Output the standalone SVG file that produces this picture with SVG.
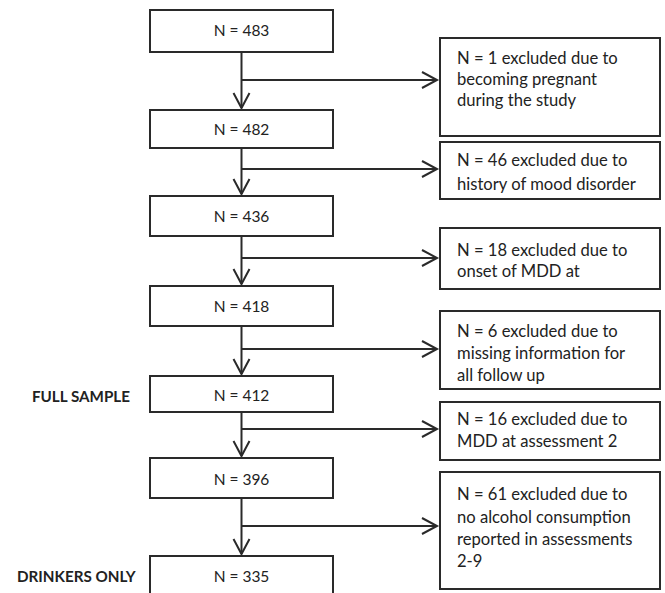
<svg xmlns="http://www.w3.org/2000/svg" width="665" height="593" viewBox="0 0 665 593">
<style>
.box{fill:#fff;stroke:#2a2a2a;stroke-width:2}
.t{font-family:Lato,"Open Sans","Liberation Sans",sans-serif;font-size:16.6px;fill:#222}
.m{font-family:Lato,"Open Sans","Liberation Sans",sans-serif;font-size:15.5px;fill:#222;text-anchor:middle}
.lbl{font-family:Lato,"Open Sans","Liberation Sans",sans-serif;font-size:15.2px;font-weight:bold;fill:#222}
.ln{fill:none;stroke:#2a2a2a;stroke-width:2}
</style>
<defs>
<marker id="ah" markerUnits="userSpaceOnUse" markerWidth="20" markerHeight="20" refX="16" refY="9" orient="auto" viewBox="0 0 20 20">
<path d="M1,1 L16,9 L1,17" fill="none" stroke="#2a2a2a" stroke-width="2"/>
</marker>
<clipPath id="cD"><rect x="441" y="312" width="218" height="76"/></clipPath>
<clipPath id="cB"><rect x="441" y="143" width="218" height="55"/></clipPath>
</defs>
<g id="connectors">
<line class="ln" x1="241.5" y1="52" x2="241.5" y2="108" marker-end="url(#ah)"/>
<line class="ln" x1="241.5" y1="80" x2="437" y2="80" marker-end="url(#ah)"/>
<line class="ln" x1="241.5" y1="148" x2="241.5" y2="194" marker-end="url(#ah)"/>
<line class="ln" x1="241.5" y1="169" x2="437" y2="169" marker-end="url(#ah)"/>
<line class="ln" x1="241.5" y1="236" x2="241.5" y2="284" marker-end="url(#ah)"/>
<line class="ln" x1="241.5" y1="258" x2="437" y2="258" marker-end="url(#ah)"/>
<line class="ln" x1="241.5" y1="326" x2="241.5" y2="374" marker-end="url(#ah)"/>
<line class="ln" x1="241.5" y1="349" x2="437" y2="349" marker-end="url(#ah)"/>
<line class="ln" x1="241.5" y1="412" x2="241.5" y2="456" marker-end="url(#ah)"/>
<line class="ln" x1="241.5" y1="429" x2="437" y2="429" marker-end="url(#ah)"/>
<line class="ln" x1="241.5" y1="498" x2="241.5" y2="554" marker-end="url(#ah)"/>
<line class="ln" x1="241.5" y1="526" x2="437" y2="526" marker-end="url(#ah)"/>
</g>
<g id="n483"><rect class="box" x="150" y="10" width="183" height="42"/><text class="m" x="241.5" y="36">N = 483</text></g>
<g id="n482"><rect class="box" x="150" y="110" width="183" height="38"/><text class="m" x="241.5" y="135">N = 482</text></g>
<g id="n436"><rect class="box" x="150" y="196" width="183" height="40"/><text class="m" x="241.5" y="222">N = 436</text></g>
<g id="n418"><rect class="box" x="150" y="286" width="183" height="40"/><text class="m" x="241.5" y="312">N = 418</text></g>
<g id="n412"><rect class="box" x="150" y="376" width="183" height="36"/><text class="m" x="241.5" y="401">N = 412</text></g>
<g id="n396"><rect class="box" x="150" y="458" width="183" height="40"/><text class="m" x="241.5" y="485">N = 396</text></g>
<g id="n335"><rect class="box" x="150" y="556" width="183" height="42"/><text class="m" x="241.5" y="582">N = 335</text></g>
<g id="fullSample"><text class="lbl" x="32" y="402">FULL SAMPLE</text></g>
<g id="drinkersOnly"><text class="lbl" x="17" y="582">DRINKERS ONLY</text></g>
<g id="exA"><rect class="box" x="440" y="38" width="220" height="98"/>
<text class="t" x="457" y="64">N = 1 excluded due to</text>
<text class="t" x="457" y="85">becoming pregnant</text>
<text class="t" x="457" y="106">during the study</text></g>
<g id="exB"><rect class="box" x="440" y="142" width="220" height="57"/>
<g clip-path="url(#cB)"><text class="t" x="457" y="166">N = 46 excluded due to</text>
<text class="t" x="457" y="190">history of mood disorder</text></g></g>
<g id="exC"><rect class="box" x="440" y="228" width="220" height="61"/>
<text class="t" x="457" y="256">N = 18 excluded due to</text>
<text class="t" x="457" y="277">onset of MDD at</text></g>
<g id="exD"><rect class="box" x="440" y="311" width="220" height="78"/>
<g clip-path="url(#cD)"><text class="t" x="457" y="337">N = 6 excluded due to</text>
<text class="t" x="457" y="359">missing information for</text>
<text class="t" x="457" y="381">all follow up</text></g></g>
<g id="exE"><rect class="box" x="440" y="402" width="220" height="58"/>
<text class="t" x="457" y="425">N = 16 excluded due to</text>
<text class="t" x="457" y="447">MDD at assessment 2</text></g>
<g id="exF"><rect class="box" x="440" y="472" width="220" height="117"/>
<text class="t" x="457" y="500">N = 61 excluded due to</text>
<text class="t" x="457" y="523">no alcohol consumption</text>
<text class="t" x="457" y="545">reported in assessments</text>
<text class="t" x="457" y="567">2-9</text></g>
</svg>
